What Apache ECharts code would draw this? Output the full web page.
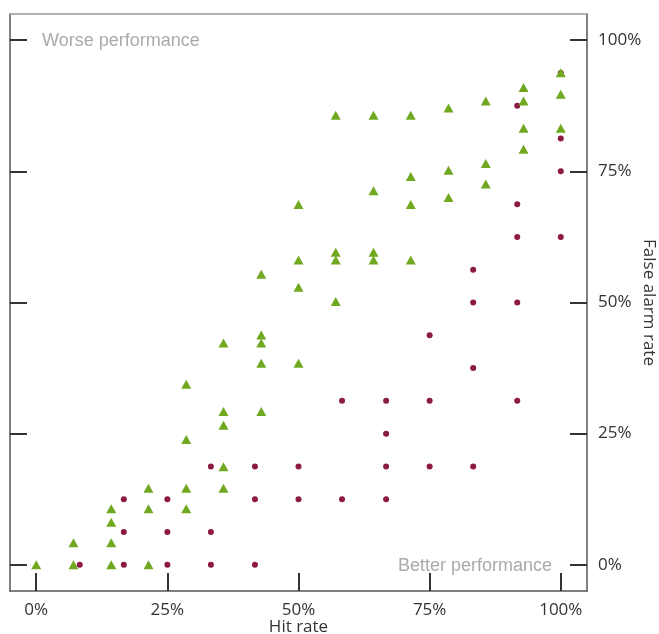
<!DOCTYPE html>
<html>
<head>
<meta charset="utf-8">
<script src="https://cdn.jsdelivr.net/npm/echarts@6/dist/echarts.min.js"></script>
<style>
  html, body { margin: 0; padding: 0; background: #fff; }
  #main { width: 659px; height: 634px; }
</style>
</head>
<body>
<div id="main"></div>
<script>
// tick positions (percent)
var ticks = [0, 25, 50, 75, 100];

// green triangles: hit rate / false alarm rate (%)
var greenHit = [0, 7.1, 7.1, 14.3, 14.3, 14.3, 14.3, 21.4, 21.4, 21.4,
  28.6, 28.6, 28.6, 28.6, 35.7, 35.7, 35.7, 35.7, 35.7,
  42.9, 42.9, 42.9, 42.9, 42.9, 50, 50, 50, 50,
  57.1, 57.1, 57.1, 57.1, 64.3, 64.3, 64.3, 64.3,
  71.4, 71.4, 71.4, 71.4, 78.6, 78.6, 78.6, 85.7, 85.7, 85.7,
  92.9, 92.9, 92.9, 92.9, 100, 100, 100];
var greenFalse = [0, 0, 4.2, 0, 4.2, 8.1, 10.7, 0, 10.7, 14.6,
  10.7, 14.6, 23.9, 34.4, 14.6, 18.7, 26.6, 29.2, 42.3,
  29.2, 38.4, 42.3, 43.8, 55.4, 38.4, 52.9, 58.1, 68.7,
  50.2, 58.1, 59.6, 85.7, 58.1, 59.6, 71.3, 85.7,
  58.1, 68.7, 74.0, 85.7, 70.0, 75.2, 87.1, 72.6, 76.5, 88.4,
  79.2, 83.2, 88.4, 91.0, 83.2, 89.7, 93.8];

// red dots: hit rate / false alarm rate (%)
var redHit = [8.3, 16.7, 16.7, 16.7, 25, 25, 25, 33.3, 33.3, 33.3,
  41.7, 41.7, 41.7, 50, 50, 58.3, 58.3, 66.7, 66.7, 66.7, 66.7,
  75, 75, 75, 83.3, 83.3, 83.3, 83.3, 91.7, 91.7, 91.7, 91.7, 91.7,
  100, 100, 100, 100];
var redFalse = [0, 0, 6.25, 12.5, 0, 6.25, 12.5, 0, 6.25, 18.75,
  0, 12.5, 18.75, 12.5, 18.75, 12.5, 31.25, 12.5, 18.75, 25, 31.25,
  18.75, 31.25, 43.75, 18.75, 37.5, 50, 56.25, 31.25, 50, 62.5, 68.75, 87.5,
  62.5, 75, 81.25, 93.75];

function pairs(xs, ys) {
  return xs.map(function (x, i) { return [x, ys[i]]; });
}

var chart = echarts.init(document.getElementById('main'));
var labelFont = '"Open Sans", sans-serif';
var option = {
  animation: false,
  grid: { left: 10, right: 72, top: 14, bottom: 43, outerBoundsMode: 'none' },
  xAxis: [{
    type: 'value',
    min: -5,
    max: 105,
    position: 'bottom',
    name: 'Hit rate',
    nameLocation: 'middle',
    nameGap: 28,
    nameMoveOverlap: false,
    nameTextStyle: { color: '#333', fontSize: 17, fontFamily: labelFont },
    axisLine: { onZero: false, lineStyle: { color: '#555', width: 1.5 } },
    axisTick: { show: true, inside: true, length: 18, customValues: ticks,
      lineStyle: { color: '#333', width: 2 } },
    axisLabel: { customValues: ticks, formatter: '{value}%', margin: 11,
      color: '#333', fontSize: 17, fontFamily: labelFont },
    splitLine: { show: false }
  }, {
    type: 'value',
    min: -5,
    max: 105,
    position: 'top',
    axisLine: { onZero: false, lineStyle: { color: '#999', width: 1.5 } },
    axisTick: { show: false },
    axisLabel: { show: false },
    splitLine: { show: false }
  }],
  yAxis: [{
    type: 'value',
    min: -5,
    max: 105,
    position: 'left',
    axisLine: { show: true, onZero: false, lineStyle: { color: '#555', width: 1.5 } },
    axisTick: { show: true, inside: true, length: 17, customValues: ticks,
      lineStyle: { color: '#333', width: 2 } },
    axisLabel: { show: false },
    splitLine: { show: false }
  }, {
    type: 'value',
    min: -5,
    max: 105,
    position: 'right',
    name: 'False alarm rate',
    nameLocation: 'middle',
    nameRotate: -90,
    nameGap: 53,
    nameMoveOverlap: false,
    nameTextStyle: { color: '#333', fontSize: 17, fontFamily: labelFont },
    axisLine: { show: true, onZero: false, lineStyle: { color: '#555', width: 1.5 } },
    axisTick: { show: true, inside: true, length: 17, customValues: ticks,
      lineStyle: { color: '#333', width: 2 } },
    axisLabel: { customValues: ticks, formatter: '{value}%', margin: 11,
      color: '#333', fontSize: 17, fontFamily: labelFont },
    splitLine: { show: false }
  }],
  graphic: [{
    type: 'text',
    left: 42,
    top: 32,
    style: { text: 'Worse performance', fill: '#aaa', fontSize: 18,
      fontFamily: '"Liberation Sans", Arial, sans-serif' }
  }, {
    type: 'text',
    left: 398,
    top: 557,
    style: { text: 'Better performance', fill: '#aaa', fontSize: 18,
      fontFamily: '"Liberation Sans", Arial, sans-serif' }
  }],
  series: [{
    type: 'scatter',
    symbol: 'circle',
    symbolSize: 6,
    itemStyle: { color: '#8c1a44', opacity: 1 },
    data: pairs(redHit, redFalse)
  }, {
    type: 'scatter',
    symbol: 'triangle',
    symbolSize: [10, 9],
    itemStyle: { color: '#70a820', opacity: 1 },
    data: pairs(greenHit, greenFalse)
  }]
};
chart.setOption(option);
</script>
</body>
</html>
